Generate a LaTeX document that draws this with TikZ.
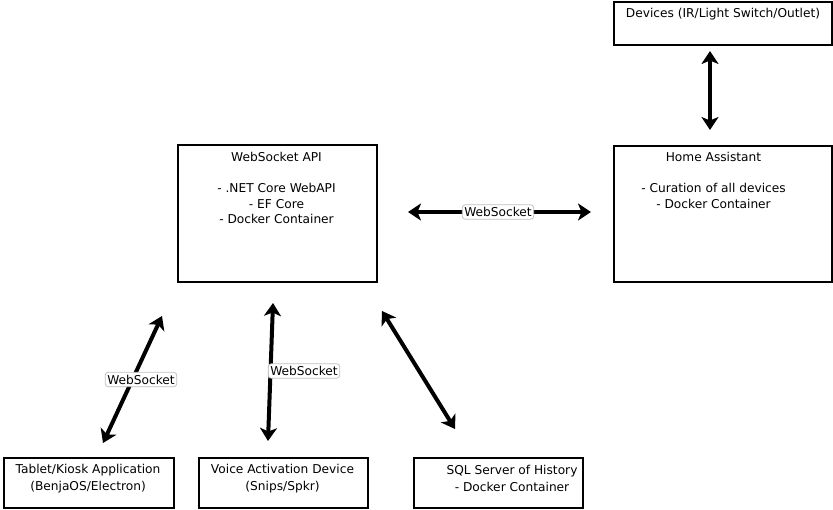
\documentclass[tikz,border=0pt]{standalone}
\usepackage{fontspec}
\setmainfont{DejaVu Sans}
\usetikzlibrary{arrows.meta}
\begin{document}
\begin{tikzpicture}[x=1pt,y=-1pt,
  box/.style={draw,line width=2.2pt,fill=white,inner sep=0pt,anchor=north west},
  txt/.style={font=\fontsize{12.2}{15.5}\selectfont,align=center,inner sep=0pt},
  conn/.style={line width=4pt,{Stealth[length=13pt,width=17pt,inset=3.5pt]}-{Stealth[length=13pt,width=17pt,inset=3.5pt]}},
  lbl/.style={draw=black!25,line width=0.8pt,rounded corners=3pt,fill=white,font=\fontsize{12.2}{13}\selectfont,inner xsep=2pt,inner ysep=2.5pt}]
\useasboundingbox (0,0) rectangle (833,509);
% boxes
\node[box,minimum width=218pt,minimum height=43pt] (dev) at (613,1) {};
\node[txt] (devt) at (723,14) {Devices (IR/Light Switch/Outlet)};
\node[box,minimum width=199pt,minimum height=137pt] (api) at (177,144) {};
\node[txt,anchor=north] (apit) at (276.5,152.3) {WebSocket API\\[15.5pt]- .NET Core WebAPI\\- EF Core\\- Docker Container};
\node[box,minimum width=218pt,minimum height=136pt] (ha) at (613,145) {};
\node[txt,anchor=north] (hat) at (713.5,152.3) {Home Assistant\\[15.5pt]- Curation of all devices\\- Docker Container};
\node[box,minimum width=170pt,minimum height=50pt] (tab) at (3,457) {};
\node[txt,font=\fontsize{12.2}{17}\selectfont] (tabt) at (88,478.5) {Tablet/Kiosk Application\\(BenjaOS/Electron)};
\node[box,minimum width=169pt,minimum height=50pt] (voi) at (198,457) {};
\node[txt,font=\fontsize{12.2}{17}\selectfont] (voit) at (282.5,478.5) {Voice Activation Device\\(Snips/Spkr)};
\node[box,minimum width=169pt,minimum height=50pt] (sql) at (413,457) {};
\node[txt,font=\fontsize{12.2}{17}\selectfont] (sqlt) at (512,478.5) {SQL Server of History\\- Docker Container};
% connector end points
\coordinate (d1) at (710,51);
\coordinate (d2) at (710,130);
\coordinate (h1) at (408,212);
\coordinate (h2) at (591,212);
\coordinate (t1) at (103,443);
\coordinate (t2) at (162,316);
\coordinate (v1) at (273,303);
\coordinate (v2) at (268,441);
\coordinate (s1) at (382,311);
\coordinate (s2) at (455,429);
% connectors
\draw[conn] (d1) -- (d2);
\draw[conn] (h1) -- (h2);
\draw[conn] (t1) -- (t2);
\draw[conn] (v1) -- (v2);
\draw[conn] (s1) -- (s2);
% labels
\node[lbl] (l1) at (498,212) {WebSocket};
\node[lbl] (l2) at (141,379.5) {WebSocket};
\node[lbl] (l3) at (304,371) {WebSocket};
\end{tikzpicture}
\end{document}
